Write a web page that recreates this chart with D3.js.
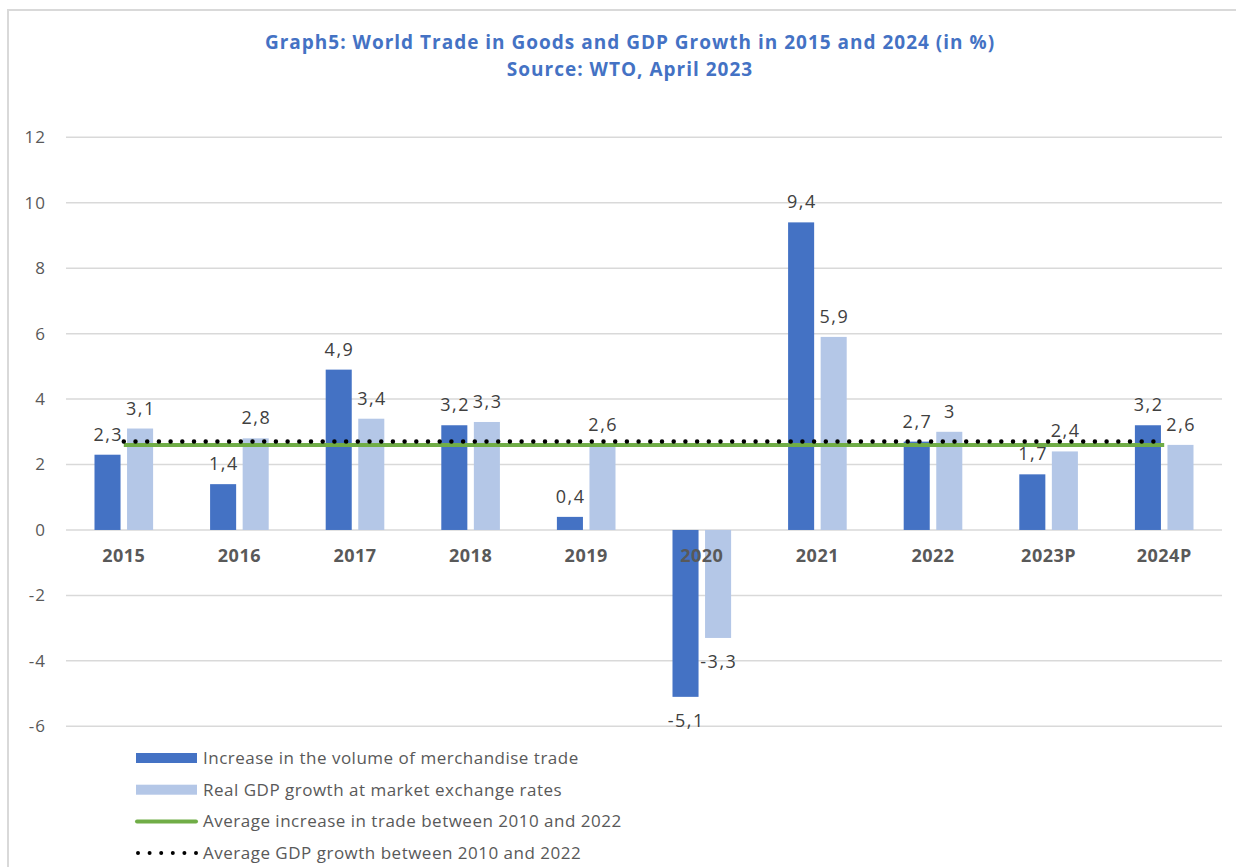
<!DOCTYPE html>
<html>
<head>
<meta charset="utf-8">
<script src="https://cdn.jsdelivr.net/npm/d3@7"></script>
<style>
  html, body { margin: 0; padding: 0; background: #fff; }
  svg { display: block; }
  text { font-family: "Open Sans", "Noto Sans", sans-serif; }
</style>
</head>
<body>
<svg id="chart" width="1236" height="867"></svg>
<script>
// Categories and series (percent)
const years = ["2015", "2016", "2017", "2018", "2019", "2020", "2021", "2022", "2023P", "2024P"];
const tradeVolume = [2.3, 1.4, 4.9, 3.2, 0.4, -5.1, 9.4, 2.7, 1.7, 3.2];
const gdpGrowth = [3.1, 2.8, 3.4, 3.3, 2.6, -3.3, 5.9, 3.0, 2.4, 2.6];
const avgTrade = 2.6;
const avgGdp = 2.7;
const yTicks = [-6, -4, -2, 0, 2, 4, 6, 8, 10, 12];
const seriesNames = [
  "Increase in the volume of merchandise trade",
  "Real GDP growth at market exchange rates",
  "Average increase in trade between 2010 and 2022",
  "Average GDP growth between 2010 and 2022"
];
const titleLines = [
  "Graph5: World Trade in Goods and GDP Growth in 2015 and 2024 (in %)",
  "Source: WTO, April 2023"
];

const colors = { trade: "#4472C4", gdp: "#B4C7E7", avgTrade: "#70AD47", avgGdp: "#000000" };

const svg = d3.select("#chart");

// outer frame
svg.append("rect")
  .attr("x", 8).attr("y", 10).attr("width", 1260).attr("height", 900)
  .attr("fill", "none").attr("stroke", "#d9d9d9").attr("stroke-width", 2);

// title
svg.append("g").selectAll("text").data(titleLines).join("text")
  .attr("x", 630).attr("y", (d, i) => 49 + i * 27)
  .attr("text-anchor", "middle")
  .attr("fill", "#4472C4")
  .attr("font-weight", "bold")
  .attr("font-size", 19)
  .attr("letter-spacing", 1)
  .text(d => d);

const x0 = d3.scaleBand().domain(years).range([66, 1222])
  .paddingInner(0.493).paddingOuter(0.2465);
const x1 = d3.scaleBand().domain(["trade", "gdp"]).range([0, x0.bandwidth()]).paddingInner(0.2);
const y = d3.scaleLinear().domain([-6, 12]).range([726.3, 137.3]);

// gridlines
svg.append("g").selectAll("line").data(yTicks).join("line")
  .attr("x1", 66).attr("x2", 1222)
  .attr("y1", d => y(d)).attr("y2", d => y(d))
  .attr("stroke", "#d9d9d9").attr("stroke-width", 1.5);

// y axis labels (plain hyphen for negatives)
const yAxis = d3.axisLeft(y).tickValues(yTicks).tickSize(0).tickPadding(0).tickFormat(d => String(d));
const yg = svg.append("g").attr("transform", "translate(46,0)").call(yAxis);
yg.select(".domain").remove();
yg.selectAll("text")
  .attr("font-size", 17).attr("fill", "#595959").attr("letter-spacing", 1)
  .style("font-family", '"Open Sans", sans-serif');

// bars
const rows = years.map((yr, i) => ({ year: yr, trade: tradeVolume[i], gdp: gdpGrowth[i] }));
const groups = svg.append("g").selectAll("g").data(rows).join("g")
  .attr("transform", d => `translate(${x0(d.year)},0)`);

groups.selectAll("rect").data(d => [
  { key: "trade", v: d.trade }, { key: "gdp", v: d.gdp }
]).join("rect")
  .attr("x", d => x1(d.key))
  .attr("width", x1.bandwidth())
  .attr("y", d => y(Math.max(0, d.v)))
  .attr("height", d => Math.abs(y(d.v) - y(0)))
  .attr("fill", d => colors[d.key]);

// value labels (decimal comma)
const fmt = v => String(v).replace(".", ",");
groups.selectAll("text.val").data(d => [
  { key: "trade", v: d.trade }, { key: "gdp", v: d.gdp }
]).join("text")
  .attr("class", "val")
  .attr("x", d => x1(d.key) + x1.bandwidth() / 2 + 0.75)
  .attr("y", d => d.v >= 0 ? y(d.v) - 14 : y(d.v) + 30)
  .attr("text-anchor", "middle")
  .attr("font-size", 18)
  .attr("letter-spacing", 1.5)
  .attr("fill", "#404040")
  .text(d => fmt(d.v));

// category labels
const xAxis = d3.axisBottom(x0).tickSize(0).tickPadding(0);
const xg = svg.append("g").attr("transform", `translate(0,${y(0)})`).call(xAxis);
xg.select(".domain").remove();
xg.selectAll("text")
  .attr("dy", null).attr("y", 32)
  .attr("font-size", 18).attr("font-weight", "bold").attr("fill", "#595959")
  .attr("letter-spacing", 0.5)
  .style("font-family", '"Open Sans", sans-serif');

// average lines
const c0 = x0(years[0]) + x0.bandwidth() / 2;
const c1 = x0(years[years.length - 1]) + x0.bandwidth() / 2;
svg.append("line")
  .attr("x1", c0).attr("x2", c1).attr("y1", y(avgTrade)).attr("y2", y(avgTrade))
  .attr("stroke", colors.avgTrade).attr("stroke-width", 4);
svg.append("line")
  .attr("x1", c0).attr("x2", c1).attr("y1", y(avgGdp)).attr("y2", y(avgGdp))
  .attr("stroke", colors.avgGdp).attr("stroke-width", 4.5)
  .attr("stroke-linecap", "round").attr("stroke-dasharray", "0 11.7");

// legend
const legend = svg.append("g").attr("transform", "translate(136,758)");
const items = legend.selectAll("g").data(seriesNames).join("g")
  .attr("transform", (d, i) => `translate(0,${i * 31.7})`);
items.each(function (d, i) {
  const g = d3.select(this);
  if (i < 2) {
    g.append("rect").attr("x", 0).attr("y", -5).attr("width", 61).attr("height", 10)
      .attr("fill", i === 0 ? colors.trade : colors.gdp);
  } else if (i === 2) {
    g.append("line").attr("x1", 1).attr("x2", 60).attr("y1", 0).attr("y2", 0)
      .attr("stroke", colors.avgTrade).attr("stroke-width", 4).attr("stroke-linecap", "round");
  } else {
    g.append("line").attr("x1", 2).attr("x2", 62).attr("y1", 0).attr("y2", 0)
      .attr("stroke", "#000").attr("stroke-width", 4)
      .attr("stroke-linecap", "round").attr("stroke-dasharray", "0 11.6");
  }
  g.append("text").attr("x", 67).attr("y", 0).attr("dy", "0.35em")
    .attr("font-size", 17).attr("letter-spacing", 0.5)
    .attr("fill", "#595959").text(d);
});
</script>
</body>
</html>
